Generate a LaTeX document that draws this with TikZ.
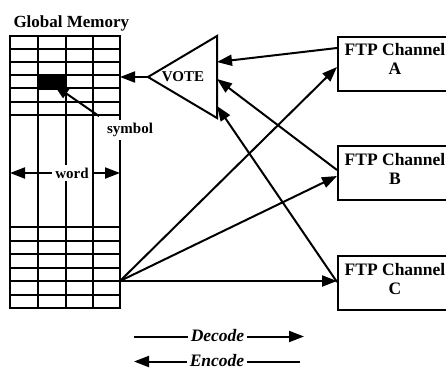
\documentclass[tikz,border=0pt]{standalone}
\usepackage{fontspec}
\setmainfont{Liberation Serif}
\usetikzlibrary{arrows.meta,calc}

\begin{document}
\begin{tikzpicture}[x=1pt,y=-1pt,
  line width=2pt,
  >={Triangle[length=15pt,width=11pt]},
  lbl/.style={font=\bfseries\fontsize{15}{18}\selectfont, inner sep=1pt},
  title/.style={font=\bfseries\fontsize{17}{20}\selectfont, inner sep=0pt},
  chanbox/.style={draw, rectangle, minimum width=116pt, minimum height=54pt,
    inner sep=0pt, anchor=north west},
  chantext/.style={align=center, inner sep=0pt,
    font=\bfseries\fontsize{17.5}{19}\selectfont},
  deco/.style={font=\bfseries\itshape\fontsize{17.5}{20}\selectfont, inner sep=0pt, anchor=base},
]
\useasboundingbox (0,0) rectangle (446,370);

% ---- global memory block ----
\node[title, anchor=base west] (gm) at (12.5,27.5) {Global Memory};
\draw (10,36) rectangle (120,308);
\foreach \x in {38,66,93} \draw (\x,36) -- (\x,308);
\foreach \i in {1,...,6} \draw (10,{36+13.1*\i}) -- (120,{36+13.1*\i});
\foreach \i in {0,...,5} \draw (10,{227+13.5*\i}) -- (120,{227+13.5*\i});
\fill (38,75.3) rectangle (66,90);
\coordinate (memin) at (120,77);
\coordinate (fan) at (120,281);

% symbol pointer
\node[lbl, fill=white, inner sep=3pt] (sym) at (130,130) {symbol};
\draw[->] ([shift={(-4,-3)}]sym.north west) -- (54,85);

% word width
\coordinate (wl) at (10,173);
\coordinate (wr) at (120,173);
\draw[<->] (wl) -- (wr);
\node[lbl, fill=white, inner sep=3pt] (word) at (72,173) {word};

% ---- voter ----
\coordinate (vapex) at (148,77);
\coordinate (vtop) at (217,36);
\coordinate (vbot) at (217,118);
\draw[line join=miter] (vapex) -- (vtop) -- (vbot) -- cycle;
\node[lbl] (vote) at (183,77) {VOTE};
\coordinate (vinA) at (217,62);
\coordinate (vinB) at (217,79);
\coordinate (vinC) at (217,106);

% ---- channels ----
\node[chanbox] (chA) at (337,36) {};
\node[chanbox] (chB) at (337,145) {};
\node[chanbox] (chC) at (337,255) {};
\node[chantext] (tA) at (395,58.5) {FTP Channel\\A};
\node[chantext] (tB) at (395,169) {FTP Channel\\B};
\node[chantext] (tC) at (395,279) {FTP Channel\\C};

% ---- connections ----
\draw[->] (vapex) -- (memin);
\draw[->] (fan) -- ([yshift=-3pt]chA.west);
\draw[->] (fan) -- ([yshift=-3pt]chB.west);
\draw[->] (fan) -- (fan -| chC.west);
\draw[->] ([yshift=16pt]chA.west) -- (vinA);
\draw[->] ([yshift=3pt]chB.west) -- (vinB);
\draw[->] ([yshift=1pt]chC.west) -- (vinC);

% ---- legend ----
\node[deco] (dec) at (217.5,341.5) {Decode};
\coordinate (decL) at (134,336.5);
\coordinate (decR) at (304,336.5);
\draw (decL) -- ([xshift=-2pt]decL -| dec.west);
\draw[->] ([xshift=2pt]decR -| dec.east) -- (decR);
\node[deco] (enc) at (217,366.5) {Encode};
\coordinate (encL) at (134,361.5);
\coordinate (encR) at (300,361.5);
\draw[->] ([xshift=-2pt]encL -| enc.west) -- (encL);
\draw ([xshift=2pt]encR -| enc.east) -- (encR);
\end{tikzpicture}
\end{document}
